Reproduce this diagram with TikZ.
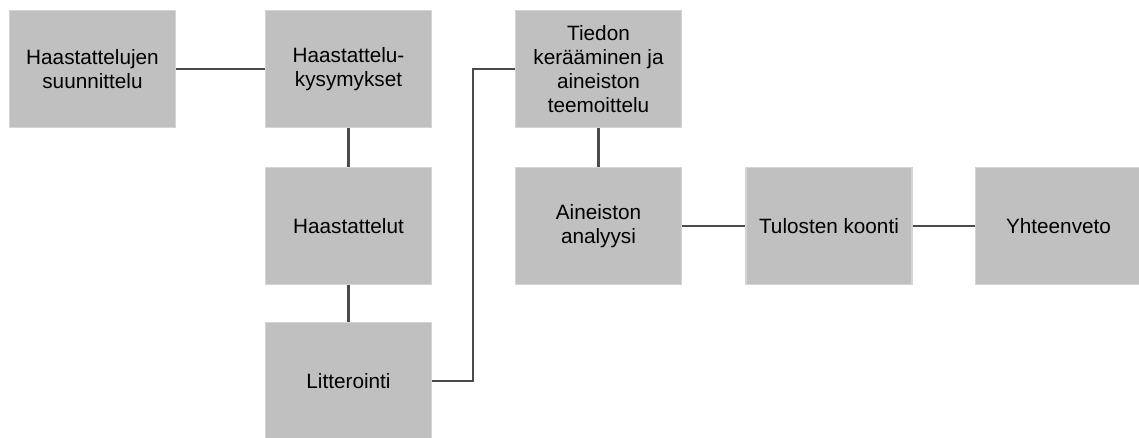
\documentclass[tikz,border=0pt]{standalone}
\usepackage{fontspec}
\setmainfont{Liberation Sans}
\usetikzlibrary{positioning}

\definecolor{boxfill}{RGB}{192,192,192}
\definecolor{boxedge}{RGB}{212,212,212}
\definecolor{linkgray}{RGB}{75,75,75}

\tikzset{
  stage/.style={fill=boxfill, draw=boxedge, line width=0.6pt, inner sep=0pt,
    minimum width=3.32cm, minimum height=2.34cm, align=center,
    font=\fontsize{11.8}{13.6}\selectfont},
  link/.style={draw=linkgray, line width=1.2pt}
}

\begin{document}
\begin{tikzpicture}[x=0.02cm, y=-0.02cm]
    % frame of the picture
    \useasboundingbox (0,0) rectangle (1139,438);
    \clip (0,0) rectangle (1139,438);

    % Boxes
    \node[stage] (suun) at (92.5,69) {Haastattelujen\\suunnittelu};
    \node[stage] (kys) at (348.5,69) {Haastattelu-\\kysymykset};
    \node[stage] (haas) at (348.5,226) {Haastattelut};
    \node[stage] (lit) at (348.5,381) {Litterointi};
    \node[stage] (tied) at (598.5,69) {Tiedon\\kerääminen ja\\aineiston\\teemoittelu};
    \node[stage] (anal) at (598.5,226) {Aineiston\\analyysi};
    \node[stage] (tul) at (829,226) {Tulosten koonti};
    \node[stage] (yht) at (1058.5,226) {Yhteenveto};

    % bend point of the long link
    \coordinate (bend) at (473,0);

    % Links
    \draw[link] (suun) -- (kys);
    \draw[link] (kys) -- (haas);
    \draw[link] (haas) -- (lit);
    \draw[link] (lit.east) -- (lit.east -| bend) -- (tied.west -| bend) -- (tied.west);
    \draw[link] (tied) -- (anal);
    \draw[link] (anal) -- (tul);
    \draw[link] (tul) -- (yht);
\end{tikzpicture}
\end{document}
